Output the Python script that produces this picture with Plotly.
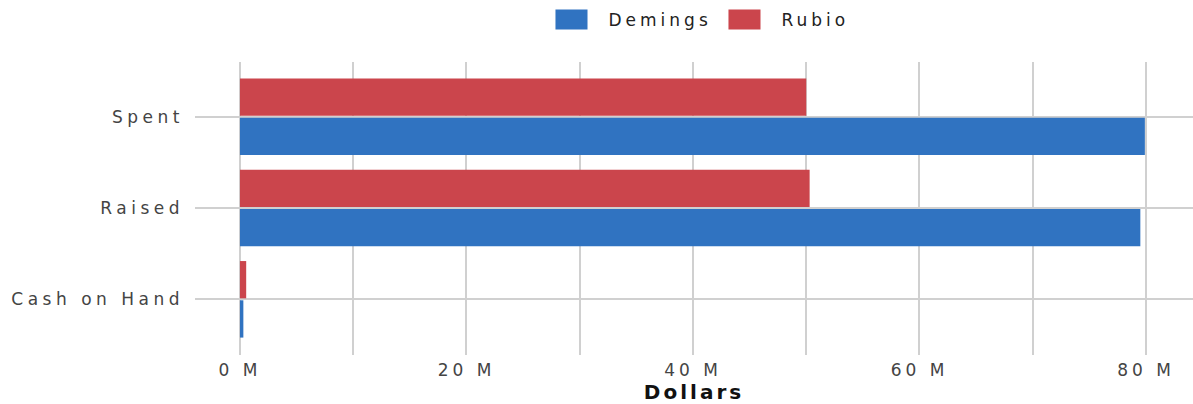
import plotly.graph_objects as go

categories = ["Cash on Hand", "Raised", "Spent"]
demings = [0.3e6, 79.5e6, 79.9e6]
rubio = [0.55e6, 50.3e6, 50.0e6]
tick_vals = [0, 20e6, 40e6, 60e6, 80e6]
tick_text = ["0 M", "20 M", "40 M", "60 M", "80 M"]

FONT = "DejaVu Sans"
GRID = "#d0d0d0"

fig = go.Figure()
fig.add_trace(go.Bar(y=categories, x=demings, name="Demings", orientation="h",
                     marker=dict(color="#3073c1", line=dict(width=0))))
fig.add_trace(go.Bar(y=categories, x=rubio, name="Rubio", orientation="h",
                     marker=dict(color="#cb454c", line=dict(width=0))))

fig.update_layout(
    width=1193, height=404,
    margin=dict(l=195, r=0, t=62, b=49, autoexpand=False),
    paper_bgcolor="white", plot_bgcolor="white",
    barmode="group", bargap=0.14, bargroupgap=0.05,
    font=dict(family=FONT, size=17, color="#444444"),
    showlegend=True,
    legend=dict(orientation="h", x=0.6098, xref="container", xanchor="center",
                y=0.995, yref="container", yanchor="top",
                font=dict(family=FONT, size=17, color="#222222"),
                itemwidth=44, entrywidth=114, traceorder="normal"),
    xaxis=dict(range=[-3.97e6, 84.15e6], tickvals=tick_vals, ticktext=tick_text,
               automargin=False,
               showgrid=True, gridcolor=GRID, gridwidth=2, zeroline=False,
               minor=dict(dtick=10e6, tick0=0, showgrid=True, gridcolor=GRID, gridwidth=2),
               title=dict(text="<b>Dollars</b>", font=dict(family=FONT, size=20, color="#111111"),
                          standoff=2),
               tickfont=dict(family=FONT, size=17, color="#444444"), ticklabelstandoff=3),
    yaxis=dict(type="category", categoryorder="array", categoryarray=categories,
               automargin=False,
               range=[-0.61, 2.6], showgrid=True, gridcolor=GRID, gridwidth=2,
               zeroline=False, ticklabelstandoff=10,
               tickfont=dict(family=FONT, size=17, color="#444444")),
)

css = ("body{margin:0;}"
       " .xtick text, text.legendtext {letter-spacing:4px;}"
       " .ytick text {letter-spacing:4.5px;}"
       " text.xtitle {letter-spacing:3px;}"
       " .legendpoints path {transform: translateX(17px) scale(2.67,1.67);}")
post = ("var s=document.createElement('style');s.textContent='" + css + "';"
        "document.head.appendChild(s);")

fig.write_html("out.html", post_script=post, config={"displayModeBar": False})
